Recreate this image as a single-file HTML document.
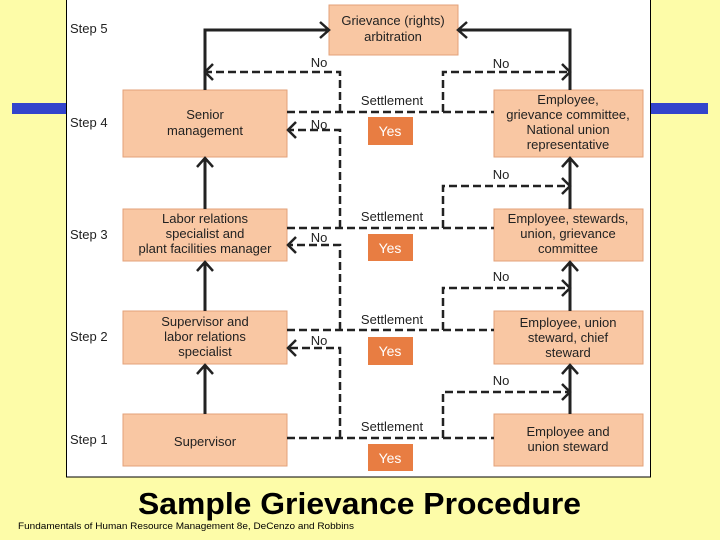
<!DOCTYPE html>
<html><head><meta charset="utf-8"><style>
html,body{margin:0;padding:0;background:#ffff99;}
body{width:720px;height:540px;overflow:hidden;position:relative;font-family:"Liberation Sans",sans-serif;}
</style></head><body>
<svg width="720" height="540" viewBox="0 0 720 540" xmlns="http://www.w3.org/2000/svg" style="position:absolute;left:0;top:0;font-family:'Liberation Sans',sans-serif">
<rect x="0" y="0" width="720" height="540" fill="#fdfca8"/>
<rect x="12" y="103" width="56" height="11" fill="#3344cc"/>
<rect x="650" y="103" width="58" height="11" fill="#3344cc"/>
<rect x="66.5" y="-1" width="584" height="478" fill="#fff" stroke="#000" stroke-width="1"/>
<g fill="#f9c7a3" stroke="#e3a27a" stroke-width="1">
<rect x="329" y="5" width="129" height="50"/>
<rect x="123" y="90" width="164" height="67"/>
<rect x="494" y="90" width="149" height="67"/>
<rect x="123" y="209" width="164" height="52"/>
<rect x="494" y="209" width="149" height="52"/>
<rect x="123" y="311" width="164" height="53"/>
<rect x="494" y="311" width="149" height="53"/>
<rect x="123" y="414" width="164" height="52"/>
<rect x="494" y="414" width="149" height="52"/>
</g>
<g fill="#e87d42">
<rect x="368" y="117" width="45" height="28"/>
<rect x="368" y="234" width="45" height="27"/>
<rect x="368" y="337" width="45" height="28"/>
<rect x="368" y="444" width="45" height="27"/>
</g>
<g stroke="#222" stroke-width="3" fill="none">
<path d="M205 90V30H327M570 90V30H460"/>
<path d="M205 209V159M205 311V263M205 414V366M570 209V159M570 311V263M570 414V366"/>
</g>
<g stroke="#222" stroke-width="2.5" fill="none" stroke-linejoin="miter">
<path d="M320 22L329 30L320 38M467 22L458 30L467 38"/>
<path d="M197 167L205 158L213 167M197 271L205 262L213 271M197 374L205 365L213 374"/>
<path d="M562 167L570 158L578 167M562 271L570 262L578 271M562 374L570 365L578 374"/>
<path d="M213 64L205 72L213 80M296 122L288 130L296 138M296 237L288 245L296 253M296 340L288 348L296 356"/>
<path d="M562 64L570 72L562 80M562 178L570 186L562 194M562 280L570 288L562 296M562 384L570 392L562 400"/>
</g>
<g stroke="#222" stroke-width="2.5" fill="none" stroke-dasharray="8,4">
<path d="M287 112H494M287 228H494M287 330H494M287 438H494"/>
<path d="M340 112V72H207M340 228V130H290M340 330V245H290M340 438V348H290"/>
<path d="M443 112V72H568M443 228V186H568M443 330V288H568M443 438V392H568"/>
</g>
<g font-size="13" fill="#222" text-anchor="middle">
<text x="393" y="25">Grievance (rights)</text><text x="393" y="41">arbitration</text>
<text x="205" y="119">Senior</text><text x="205" y="135">management</text>
<text x="568" y="104">Employee,</text><text x="568" y="119">grievance committee,</text><text x="568" y="134">National union</text><text x="568" y="149">representative</text>
<text x="205" y="223">Labor relations</text><text x="205" y="238">specialist and</text><text x="205" y="253">plant facilities manager</text>
<text x="568" y="223">Employee, stewards,</text><text x="568" y="238">union, grievance</text><text x="568" y="253">committee</text>
<text x="205" y="326">Supervisor and</text><text x="205" y="341">labor relations</text><text x="205" y="356">specialist</text>
<text x="568" y="327">Employee, union</text><text x="568" y="342">steward, chief</text><text x="568" y="357">steward</text>
<text x="205" y="446">Supervisor</text>
<text x="568" y="436">Employee and</text><text x="568" y="451">union steward</text>
<text x="392" y="105">Settlement</text><text x="392" y="221">Settlement</text><text x="392" y="324">Settlement</text><text x="392" y="431">Settlement</text>
<text x="319" y="67">No</text><text x="319" y="129">No</text><text x="319" y="242">No</text><text x="319" y="345">No</text>
<text x="501" y="68">No</text><text x="501" y="179">No</text><text x="501" y="281">No</text><text x="501" y="385">No</text>
</g>
<g font-size="14" fill="#fff" text-anchor="middle">
<text x="390" y="136">Yes</text><text x="390" y="253">Yes</text><text x="390" y="356">Yes</text><text x="390" y="463">Yes</text>
</g>
<g font-size="13" fill="#222">
<text x="70" y="33">Step 5</text><text x="70" y="127">Step 4</text><text x="70" y="239">Step 3</text><text x="70" y="341">Step 2</text><text x="70" y="444">Step 1</text>
</g>
<text x="138" y="514" font-size="31" font-weight="bold" textLength="443" lengthAdjust="spacingAndGlyphs" fill="#000">Sample Grievance Procedure</text>
<text x="18" y="529" font-size="9.5" textLength="336" lengthAdjust="spacingAndGlyphs" fill="#000">Fundamentals of Human Resource Management 8e, DeCenzo and Robbins</text>
</svg>
</body></html>
